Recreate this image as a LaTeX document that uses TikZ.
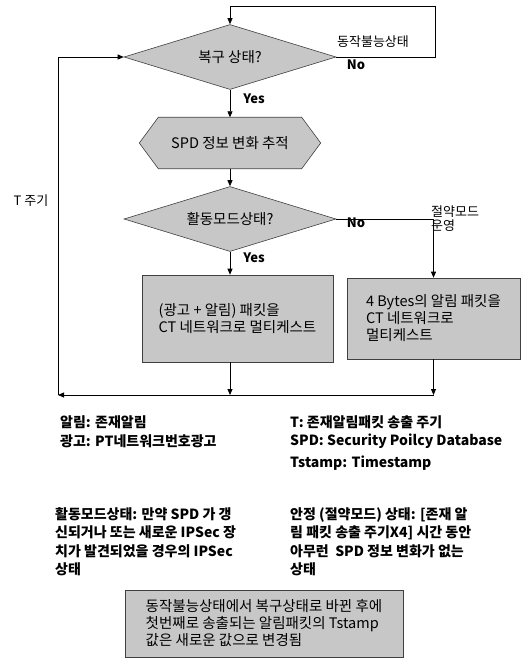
\documentclass[tikz,border=0pt]{standalone}
\usepackage{fontspec}
\setmainfont{Noto Sans CJK KR}
\usetikzlibrary{shapes.geometric,arrows.meta,backgrounds}
\tikzset{
  shade/.style={fill=black!22,draw=black!75,line width=0.6pt},
  decision/.style={shade,diamond,aspect=3.2,inner sep=0pt,minimum width=212pt,minimum height=65pt},
  hexa/.style={rectangle,minimum width=143pt,minimum height=51pt,inner sep=0pt},
  procbox/.style={shade,rectangle,inner sep=0pt,align=left},
  flow/.style={-{Triangle[length=6pt,width=5pt]},line width=0.8pt},
  txt/.style={font=\fontsize{14.5}{17}\selectfont},
  lbl/.style={font=\fontsize{13}{14}\selectfont,inner sep=0pt},
  yesno/.style={font=\bfseries\fontsize{13}{14}\selectfont,inner sep=0pt},
  note/.style={font=\bfseries\fontsize{14}{18.5}\selectfont,inner sep=0pt,align=left},
}
\begin{document}
\begin{tikzpicture}[x=1pt,y=-1pt]
\useasboundingbox (0,0) rectangle (529,658);
% flowchart
\node[decision,txt] (recover) at (230,57) {복구 상태?};
\node[hexa,txt] (trace) at (230,143) {SPD 정보 변화 추적};
\begin{scope}[on background layer]
\draw[shade] (trace.north west) -- (trace.north east) -- ([xshift=19pt]trace.east)
  -- (trace.south east) -- (trace.south west) -- ([xshift=-19pt]trace.west) -- cycle;
\end{scope}
\node[decision,txt] (active) at (230,219) {활동모드상태?};
\node[procbox,txt,minimum width=191pt,minimum height=87pt] (adv) at (237.5,318.5)
  {(광고 + 알림) 패킷을\\CT 네트워크로 멀티케스트};
\node[procbox,txt,minimum width=173pt,minimum height=81pt] (save) at (433.5,318.5)
  {4 Bytes의 알림 패킷을\\CT 네트워크로\\멀티케스트};
% labels
\node[lbl] (fail) at (373,42) {동작불능상태};
\node[yesno] (no1) at (356,65) {No};
\node[yesno] (yes1) at (254,99) {Yes};
\node[yesno] (no2) at (356,223) {No};
\node[yesno] (yes2) at (254,258) {Yes};
\node[lbl,align=left,anchor=north west] (savemode) at (431,206) {절약모드\\운영};
\node[lbl] (period) at (31,201) {T 주기};
% connectors
\coordinate (loopR) at (435,6);
\coordinate (baseL) at (58,395);
\draw[flow] (recover.east) -| (loopR) -| (recover.north);
\draw[flow] (recover.south) -- (trace.north);
\draw[flow] (trace.south) -- (active.north);
\draw[flow] (active.south) -- (active.south |- adv.north);
\draw[flow] (active.east) -| (save.north);
\draw[flow] (active.south |- adv.south) -- (active.south |- baseL);
\draw[flow] (save.south) -- (save.south |- baseL);
\draw[flow] (save.south |- baseL) -- (baseL);
\draw[flow] (baseL) |- (recover.west);
% legend
\node[note,anchor=west] (alarm) at (60,422) {알림: 존재알림};
\node[note,anchor=west] (ad) at (60,441) {광고: PT네트워크번호광고};
\node[note,anchor=west] (tdef) at (290,422) {T: 존재알림패킷 송출 주기};
\node[note,anchor=west] (spd) at (290,441) {SPD: Security Poilcy Database};
\node[note,anchor=west] (tstamp) at (290,463) {Tstamp: Timestamp};
\node[note,anchor=north west] (actdef) at (55,507)
  {활동모드상태: 만약 SPD 가 갱\\신되거나 또는 새로운 IPSec 장\\치가 발견되었을 경우의 IPSec\\상태};
\node[note,anchor=north west] (stable) at (290,507)
  {안정 (절약모드) 상태: [존재 알\\림 패킷 송출 주기X4] 시간 동안\\아무런\ \ SPD 정보 변화가 없는\\상태};
\node[procbox,txt,minimum width=278pt,minimum height=67pt] (memo) at (264,623.5)
  {동작불능상태에서 복구상태로 바뀐 후에\\첫번째로 송출되는 알림패킷의 Tstamp\\값은 새로운 값으로 변경됨};
\end{tikzpicture}
\end{document}
